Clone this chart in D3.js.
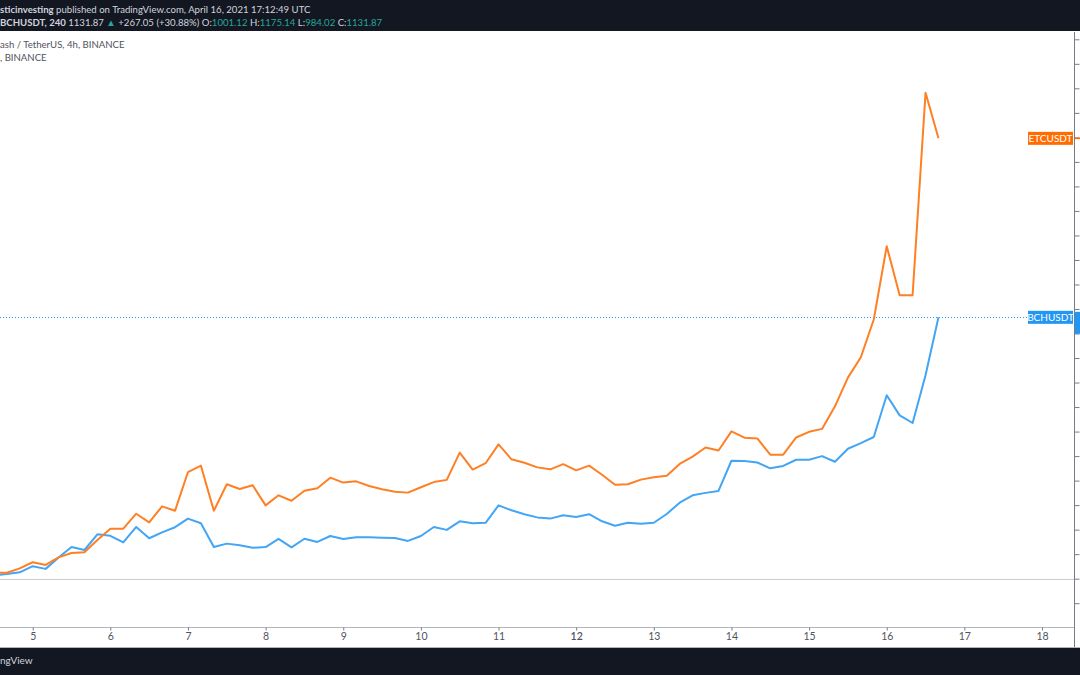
<!DOCTYPE html>
<html>
<head>
<meta charset="utf-8">
<script src="https://cdn.jsdelivr.net/npm/d3@7"></script>
<style>
  body { margin: 0; background: #fff; }
  svg { display: block; font-family: Lato, 'Open Sans', sans-serif; }
</style>
</head>
<body>
<div id="chart"></div>
<script>
// 4h candles, first one Apr 4 12:00 UTC, percent change vs. start
const startTime = Date.UTC(2021, 3, 4, 12);
const stepHours = 4;

const etcValues = [2.5, 2.4, 4.2, 6.7, 5.6, 8.7, 10.5, 10.8, 15.8, 20.4, 20.4, 26.5, 23.0, 29.5, 27.7,
  43.5, 46.1, 27.7, 38.5, 36.6, 38.1, 29.9, 34.0, 31.8, 35.9, 36.9, 41.2, 39.2, 39.7, 37.8, 36.5,
  35.5, 35.1, 37.3, 39.4, 40.3, 51.4, 44.5, 47.1, 54.8, 48.7, 47.3, 45.4, 44.6, 46.7, 44.2, 46.1,
  42.4, 38.3, 38.5, 40.4, 41.4, 42.0, 46.8, 49.8, 53.5, 52.3, 60.1, 57.5, 57.2, 50.6, 50.6, 57.6,
  59.9, 61.1, 70.3, 82.0, 90.3, 105.7, 135.6, 115.6, 115.6, 198.2, 179.6];

const bchValues = [1.4, 1.9, 2.6, 5.1, 4.0, 8.6, 12.9, 11.7, 18.1, 17.5, 14.8, 21.1, 16.5, 18.9, 21.0,
  24.5, 22.6, 12.9, 14.3, 13.6, 12.6, 12.9, 16.2, 12.8, 16.3, 15.0, 17.4, 16.2, 16.9, 16.9, 16.7,
  16.6, 15.4, 17.4, 21.1, 19.9, 23.4, 22.6, 22.8, 29.9, 27.9, 26.3, 25.0, 24.5, 25.9, 25.2, 26.3,
  23.4, 21.6, 22.8, 22.4, 22.8, 26.4, 31.0, 34.0, 35.0, 35.8, 48.1, 48.0, 47.4, 45.0, 46.0, 48.5,
  48.5, 50.0, 47.7, 53.0, 55.3, 57.8, 74.8, 66.6, 63.5, 83.0, 106.6];

const dayTicks = [5, 6, 7, 8, 9, 10, 11, 12, 13, 14, 15, 16, 17, 18];
const pctTicks = d3.range(-10, 221, 10);

const W = 1080, H = 675;
const plotTop = 32, plotBottom = 627.5, axisX = 1074.5;

const svg = d3.select('#chart').append('svg')
  .attr('width', W).attr('height', H);

const x = d3.scaleUtc()
  .domain([new Date(Date.UTC(2021, 3, 5)), new Date(Date.UTC(2021, 3, 18))])
  .range([32.7, 1042]);

const y = d3.scaleLinear().domain([-10, 220]).range([603.2, 39.3]);

const times = etcValues.map((_, i) => new Date(startTime + i * stepHours * 3600e3));

// header bar
svg.append('rect').attr('x', 0).attr('y', 0).attr('width', W).attr('height', plotTop - 1)
  .attr('fill', '#131722');

const h1 = svg.append('text').attr('x', 0).attr('y', 12.5)
  .style('font-size', '9.6px').style('fill', '#d1d4dc');
h1.append('tspan').style('font-weight', 700).text('sticinvesting');
h1.append('tspan').text(' published on TradingView.com, April 16, 2021 17:12:49 UTC');

const h2 = svg.append('text').attr('x', 0).attr('y', 25.5)
  .style('font-size', '9.6px').style('fill', '#d1d4dc');
const green = '#26a69a';
[
  ['BCHUSDT, 240 ', null, 700], ['1131.87 ', null], ['\u25B2', green], [' +267.05 (+30.88%) ', null],
  ['O:', null], ['1001.12', green], [' H:', null], ['1175.14', green],
  [' L:', null], ['984.02', green], [' C:', null], ['1131.87', green]
].forEach(([t, c, w]) => {
  const s = h2.append('tspan').text(t);
  if (c) s.style('fill', c);
  if (w) s.style('font-weight', w);
});

// legend
svg.append('text').attr('x', 0).attr('y', 48).text('ash / TetherUS, 4h, BINANCE')
  .style('font-size', '9.6px').style('fill', '#50535e');
svg.append('text').attr('x', 0).attr('y', 61).text(', BINANCE')
  .style('font-size', '9.6px').style('fill', '#50535e');

// zero baseline
svg.append('line').attr('x1', 0).attr('x2', axisX)
  .attr('y1', Math.round(y(0)) + 0.5).attr('y2', Math.round(y(0)) + 0.5)
  .attr('stroke', '#c9cbd1').attr('stroke-width', 1);

// last BCH price dotted line
const lastBch = bchValues[bchValues.length - 1];
svg.append('line').attr('x1', 0).attr('x2', 1028)
  .attr('y1', Math.round(y(lastBch)) + 0.5).attr('y2', Math.round(y(lastBch)) + 0.5)
  .attr('stroke', '#2196f3').attr('stroke-width', 1).attr('stroke-dasharray', '1,2');

// lines
const line = vals => d3.line()
  .x((d, i) => x(times[i]))
  .y(d => y(d))(vals);

svg.append('path').attr('d', line(bchValues))
  .attr('fill', 'none').attr('stroke', '#42a5f5').attr('stroke-width', 2)
  .attr('stroke-linejoin', 'round');
svg.append('path').attr('d', line(etcValues))
  .attr('fill', 'none').attr('stroke', '#ff7f24').attr('stroke-width', 2)
  .attr('stroke-linejoin', 'round');

// bottom axis
svg.append('line').attr('x1', 0).attr('x2', axisX).attr('y1', plotBottom).attr('y2', plotBottom)
  .attr('stroke', '#b2b5be');
const xAxis = d3.axisBottom(x)
  .tickValues(dayTicks.map(d => new Date(Date.UTC(2021, 3, d))))
  .tickSize(3).tickPadding(2)
  .tickFormat(d => d.getUTCDate());
const gx = svg.append('g').attr('transform', `translate(0,${plotBottom})`).call(xAxis);
gx.select('.domain').remove();
gx.selectAll('line').attr('stroke', '#787b86');
gx.selectAll('text').style('font-size', '10.5px').style('fill', '#50535e')
  .style('font-family', "Lato, 'Open Sans', sans-serif")
  .style('font-weight', d => d.getUTCDate() === 12 ? 600 : 400);

// right axis
svg.append('line').attr('x1', axisX).attr('x2', axisX).attr('y1', plotTop).attr('y2', 648)
  .attr('stroke', '#787b86');
const yAxis = d3.axisRight(y).tickValues(pctTicks).tickSize(5).tickFormat('');
const gy = svg.append('g').attr('transform', `translate(${axisX},0)`).call(yAxis);
gy.select('.domain').remove();
gy.selectAll('line').attr('stroke', '#787b86');

// series labels
function tag(label, val, color, axisMark) {
  const cy = y(val);
  svg.append('rect').attr('x', 1028).attr('y', cy - 6.5).attr('width', 45).attr('height', 13)
    .attr('fill', color);
  svg.append('text').attr('x', 1050.5).attr('y', cy + 3.6).attr('text-anchor', 'middle')
    .text(label).style('font-size', '10px').style('fill', '#fff');
  if (axisMark === 'box') {
    svg.append('rect').attr('x', 1075).attr('y', cy - 5.5).attr('width', 5).attr('height', 22)
      .attr('fill', color);
  } else {
    svg.append('line').attr('x1', 1075).attr('x2', 1080).attr('y1', cy).attr('y2', cy)
      .attr('stroke', color).attr('stroke-width', 1.5);
  }
}
tag('ETCUSDT', etcValues[etcValues.length - 1], '#ff6d00', 'tick');
tag('BCHUSDT', lastBch, '#2196f3', 'box');

// footer
svg.append('line').attr('x1', 0).attr('x2', W).attr('y1', 647.5).attr('y2', 647.5)
  .attr('stroke', '#b2b5be');
svg.append('rect').attr('x', 0).attr('y', 648).attr('width', W).attr('height', H - 648)
  .attr('fill', '#131722');
svg.append('text').attr('x', 0).attr('y', 664).text('ngView')
  .style('font-size', '10px').style('fill', '#d1d4dc');
</script>
</body>
</html>
